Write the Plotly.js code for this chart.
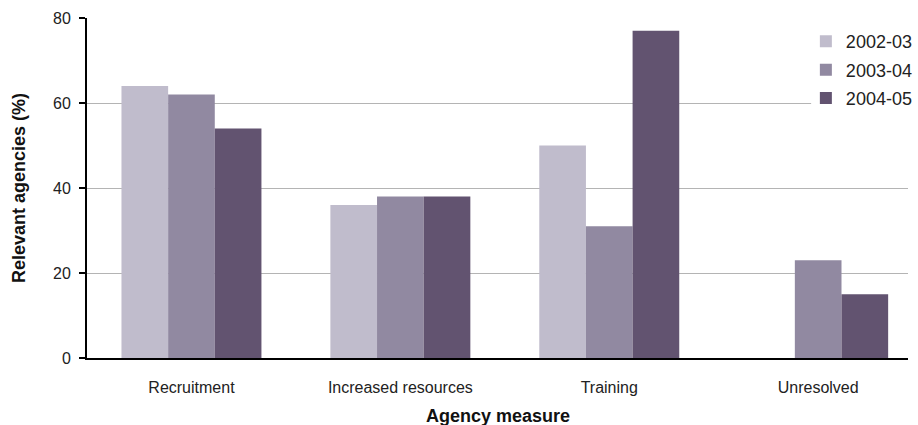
<!DOCTYPE html>
<html>
<head>
<meta charset="utf-8">
<script src="https://cdn.plot.ly/plotly-3.0.1.min.js"></script>
<style>
  html, body { margin: 0; padding: 0; background: #ffffff; }
  #chart { width: 918px; height: 425px; }
</style>
</head>
<body>
<div id="chart"></div>
<script>
// Share of relevant agencies reporting each measure, by year
const measures = ['Recruitment', 'Increased resources', 'Training', 'Unresolved'];
const years = ['2002-03', '2003-04', '2004-05'];
const pct2002 = [64, 36, 50, 0];
const pct2003 = [62, 38, 31, 23];
const pct2004 = [54, 38, 77, 15];
const yTicks = [0, 20, 40, 60, 80];

const seriesValues = [pct2002, pct2003, pct2004];
const seriesColours = ['#c0bccc', '#9189a1', '#625370'];

const FONT = '"Liberation Sans", Arial, sans-serif';

const traces = years.map((yr, i) => ({
  type: 'bar',
  name: yr,
  legendgroup: yr,
  x: measures,
  y: seriesValues[i],
  marker: { color: seriesColours[i], line: { width: 0 } },
  hoverinfo: 'x+y+name'
}));

const layout = {
  width: 918,
  height: 425,
  // fixed margins so the legend and titles never shrink the plot area
  margin: { l: 87, r: 10, t: 18, b: 67, pad: 0, autoexpand: false },
  paper_bgcolor: '#ffffff',
  plot_bgcolor: '#ffffff',
  font: { family: FONT, color: '#222222', size: 16 },
  barmode: 'group',
  bargap: 0.33,
  bargroupgap: 0,
  xaxis: {
    type: 'category',
    autorange: false,
    range: [-0.5, 3.43],
    showline: true,
    linecolor: '#000000',
    linewidth: 2,
    ticks: '',
    showgrid: false,
    zeroline: false,
    automargin: false,
    ticklabelstandoff: 14,
    tickfont: { family: FONT, size: 16, color: '#222222' }
  },
  yaxis: {
    autorange: false,
    range: [0, 80],
    tickvals: yTicks,
    ticktext: yTicks.map(String),
    showline: true,
    linecolor: '#000000',
    linewidth: 2,
    ticks: 'outside',
    ticklen: 6,
    tickwidth: 2,
    tickcolor: '#000000',
    ticklabelstandoff: 5,
    showgrid: true,
    gridcolor: '#b4b4b4',
    gridwidth: 1,
    zeroline: false,
    automargin: false,
    tickfont: { family: FONT, size: 16, color: '#222222' },
    title: {
      text: '<b>Relevant agencies (%)</b>',
      font: { family: FONT, size: 18, color: '#111111' },
      standoff: 23
    }
  },
  annotations: [{
    // x-axis title, placed below the category labels
    text: '<b>Agency measure</b>',
    xref: 'paper', yref: 'paper',
    x: 0.5, y: -0.171,
    xanchor: 'center', yanchor: 'middle',
    showarrow: false,
    font: { family: FONT, size: 18, color: '#111111' }
  }],
  legend: {
    x: 0.8756,
    xanchor: 'left',
    y: 0.985,
    yanchor: 'top',
    bgcolor: 'rgba(255,255,255,0)',
    borderwidth: 0,
    traceorder: 'grouped',
    tracegroupgap: 2,
    font: { family: FONT, size: 18, color: '#222222' }
  },
  shapes: [{
    // white panel behind the legend, hiding the top gridlines there
    type: 'rect',
    xref: 'paper', yref: 'paper',
    x0: 0.882, x1: 1.02, y0: 0.72, y1: 1.05,
    fillcolor: '#ffffff',
    line: { width: 0 },
    layer: 'above'
  }],
  showlegend: true
};

Plotly.newPlot('chart', traces, layout, { displayModeBar: false, staticPlot: true });
</script>
</body>
</html>
